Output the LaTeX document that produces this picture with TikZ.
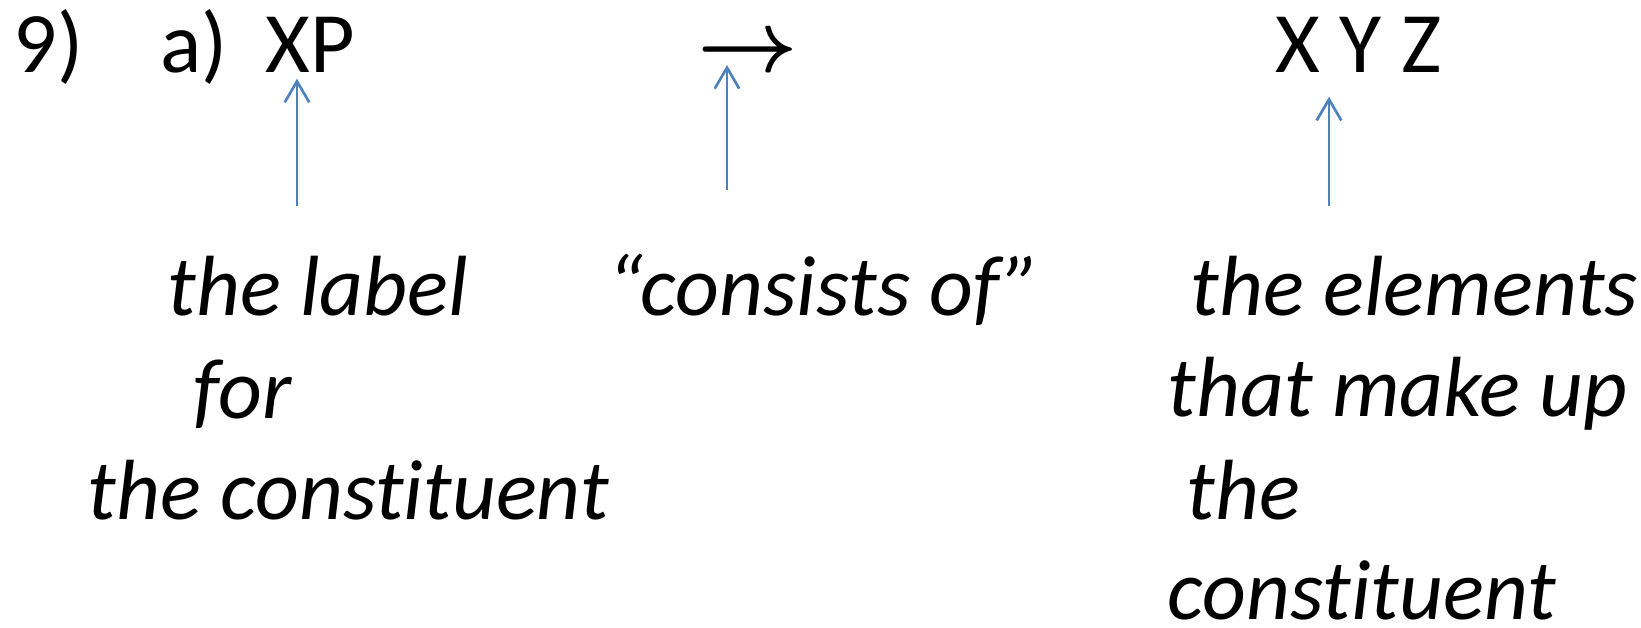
\documentclass[tikz,border=0pt]{standalone}
\usepackage{fontspec}
\setmainfont{Carlito}[Ligatures=NoCommon]
\usetikzlibrary{arrows.meta}

\definecolor{ptrblue}{RGB}{79,129,189}

\tikzset{
  rule/.style={font=\fontsize{24.5}{29}\selectfont, inner sep=0pt, anchor=base west},
  gloss/.style={font=\fontsize{24.3}{29}\selectfont\itshape, inner sep=0pt, anchor=base west},
  ptr/.style={draw=ptrblue, line width=0.75pt, -{Straight Barb[length=6pt,width=7pt]}},
}

\begin{document}
\begin{tikzpicture}[x=0.01cm, y=-0.01cm]
    \useasboundingbox (0,0) rectangle (1641,628);

    % The rule: 9) a) XP -> X Y Z
    \node[rule] (num) at (13,73) {9)};
    \node[rule] (sub) at (160,73) {a)};
    \node[rule] (xp) at (265,73) {XP};
    \node[inner sep=0pt, font=\fontsize{23}{27}\selectfont\boldmath] (cons) at (748,54) {$\rightarrow$};
    \node[rule] (xyz) at (1275,73) {X Y Z};

    % Glosses under the rule
    \node[gloss] (lab1) at (167,316) {the label};
    \node[gloss] (lab2) at (193,419) {for};
    \node[gloss] (lab3) at (87,520) {the constituent};

    \node[gloss] (con1) at (607,316) {“consists of”};

    \node[gloss] (el1) at (1190,316) {the elements};
    \node[gloss] (el2) at (1167,417) {that make up};
    \node[gloss] (el3) at (1186,520) {the};
    \node[gloss] (el4) at (1167,620) {constituent};

    % Pointers
    \coordinate (tailxp) at (297,206);
    \coordinate (tailcons) at (727,190);
    \coordinate (tailxyz) at (1329,206);
    \draw[ptr] (tailxp) -- ([yshift=-0.05cm]tailxp |- xp.south);
    \draw[ptr] (tailcons) -- ([yshift=-0.11cm]tailcons |- cons.center);
    \draw[ptr] (tailxyz) -- ([yshift=-0.23cm]tailxyz |- xyz.south);
\end{tikzpicture}
\end{document}
